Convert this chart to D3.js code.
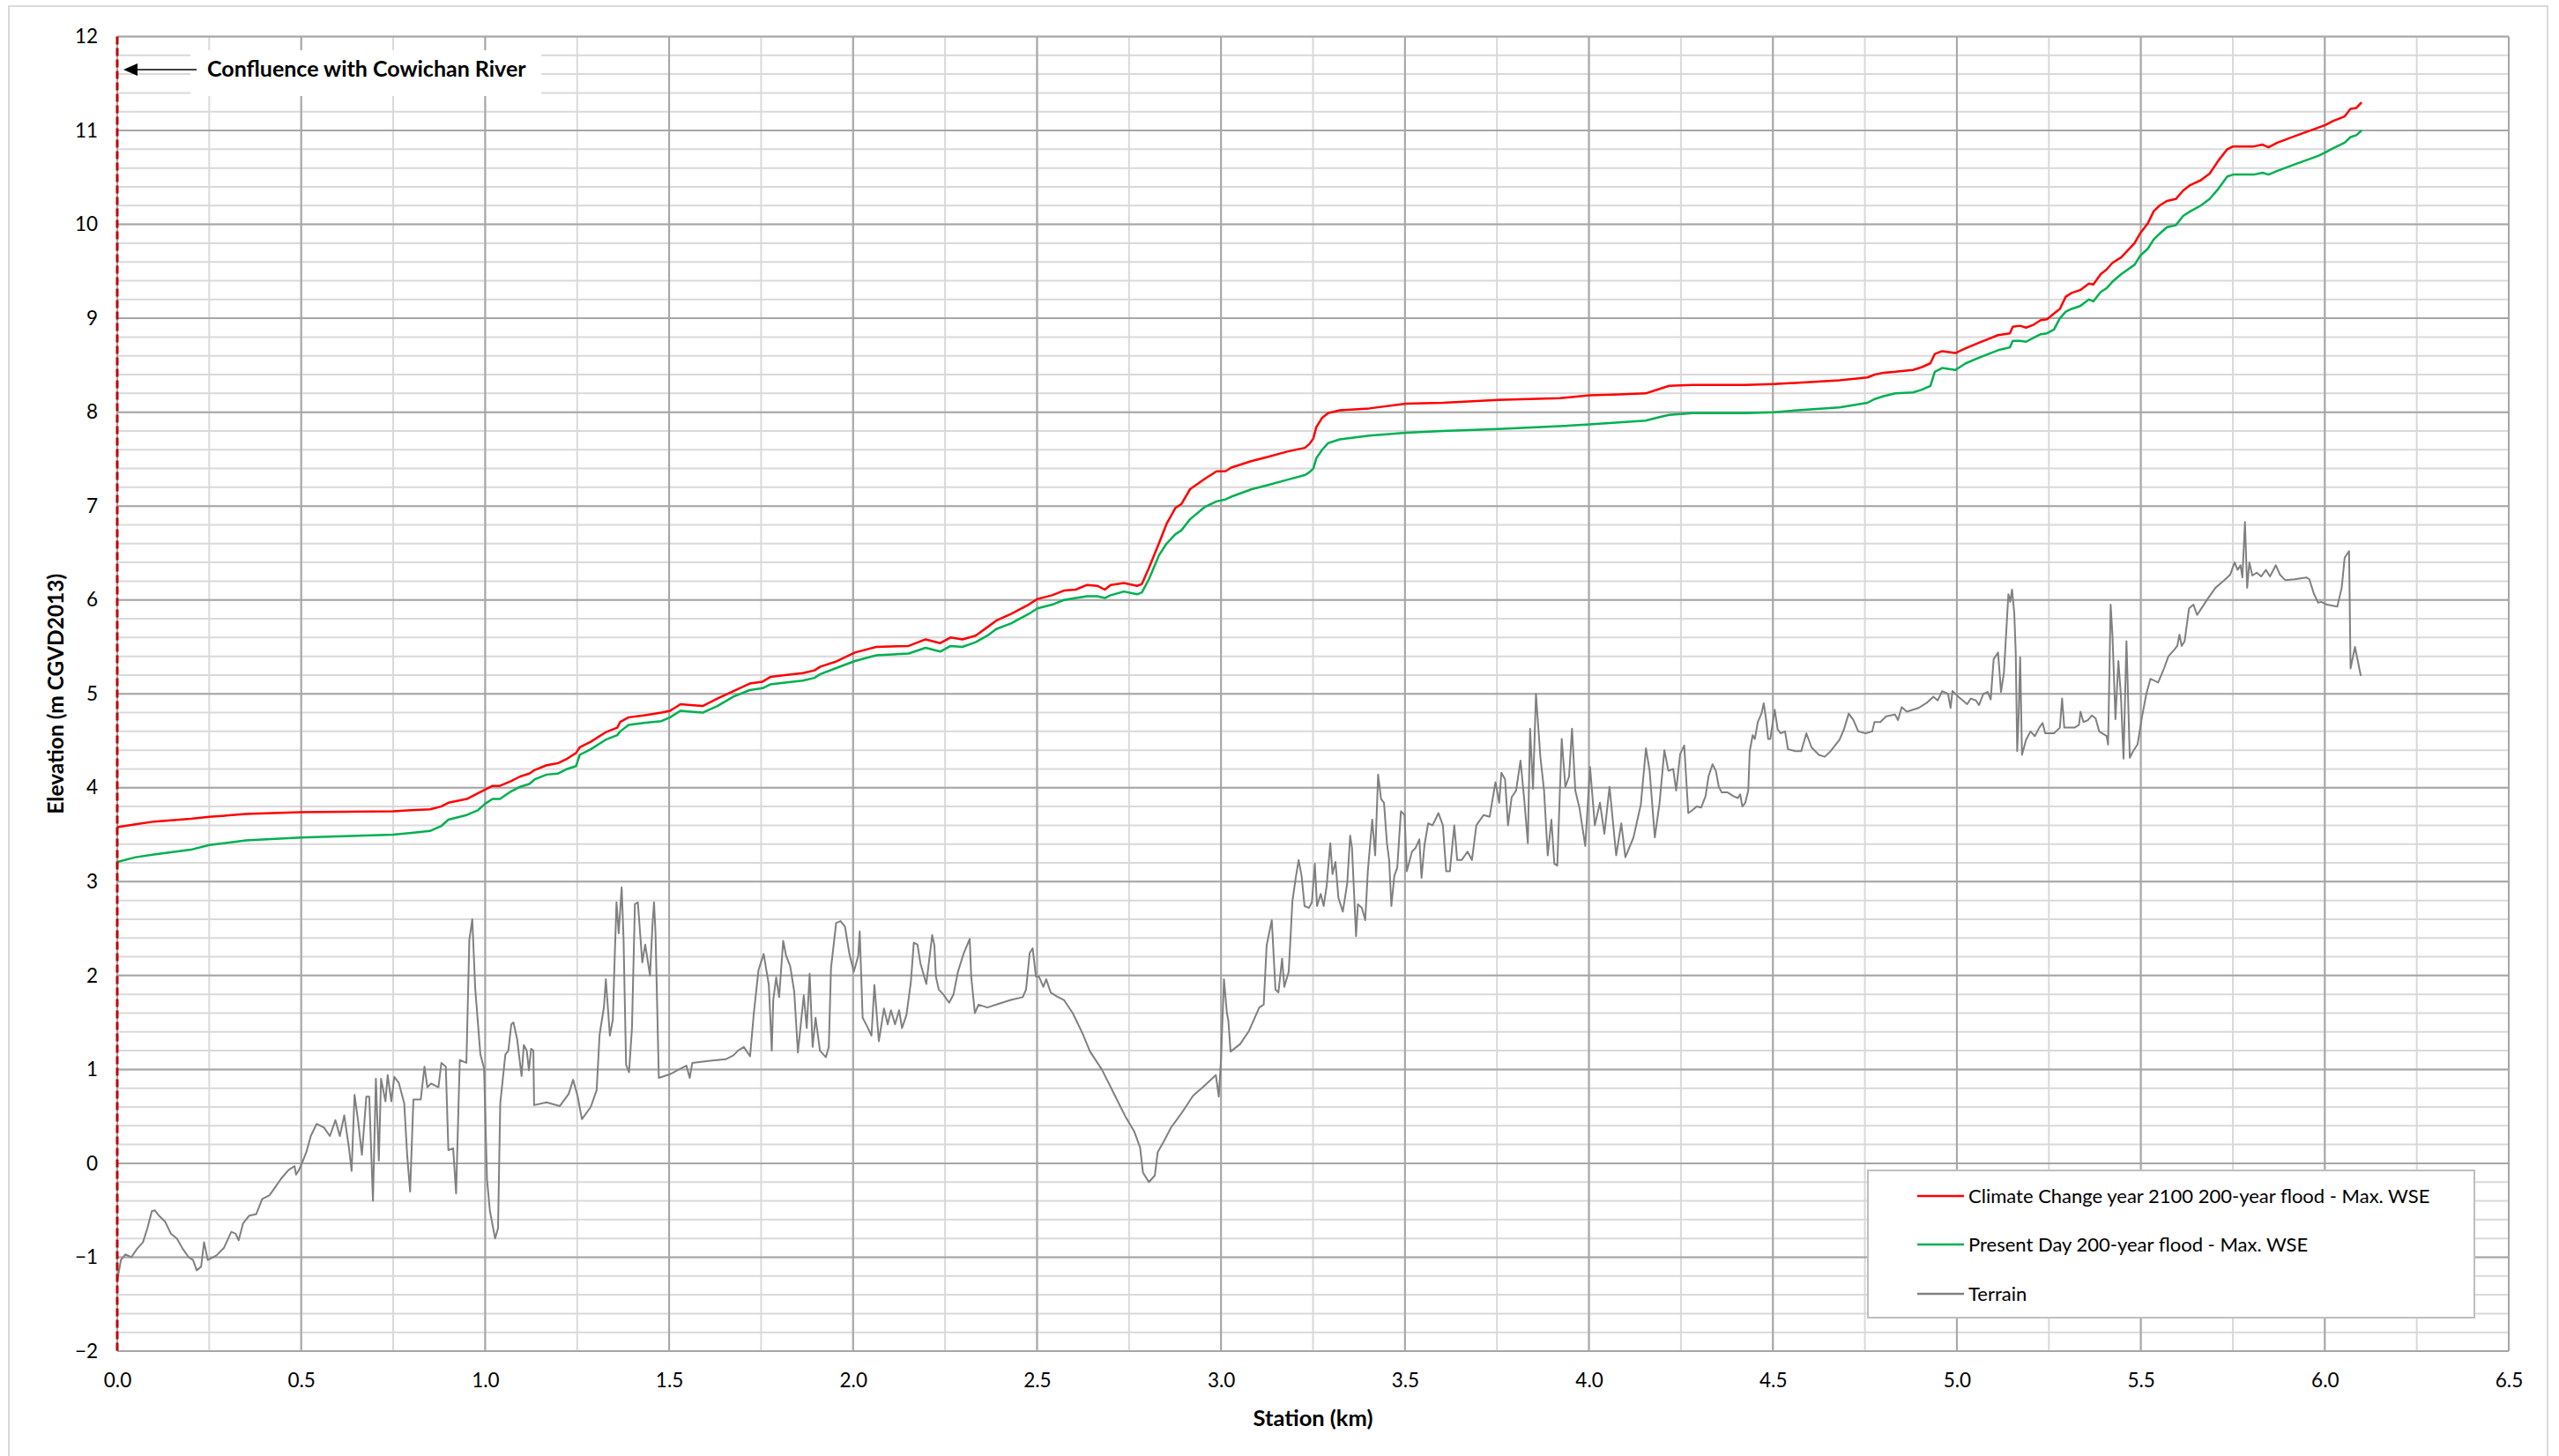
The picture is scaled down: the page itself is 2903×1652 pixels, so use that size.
<!DOCTYPE html>
<html>
<head>
<meta charset="utf-8">
<script src="https://cdn.jsdelivr.net/npm/d3@7"></script>
<style>
  html, body { margin: 0; padding: 0; background: #fff; }
  svg { display: block; font-family: Lato, "Open Sans", sans-serif; }
</style>
</head>
<body>
<svg id="chart" width="2903" height="1652"></svg>
<script>
// Water surface profiles (station in km, elevation in m CGVD2013)
const wseStation = [0.00,0.05,0.10,0.20,0.25,0.35,0.50,0.75,0.80,0.85,0.88,0.90,0.95,0.98,1.00,1.02,1.04,1.07,1.095,1.12,1.135,1.167,1.197,1.223,1.247,1.257,1.287,1.327,1.359,1.367,1.39,1.431,1.479,1.503,1.531,1.559,1.591,1.631,1.675,1.719,1.754,1.775,1.815,1.863,1.895,1.911,1.951,2.005,2.063,2.151,2.197,2.237,2.265,2.297,2.333,2.365,2.389,2.429,2.477,2.501,2.541,2.573,2.605,2.636,2.664,2.684,2.700,2.736,2.772,2.785,2.804,2.832,2.852,2.876,2.892,2.916,2.956,2.988,3.012,3.028,3.084,3.124,3.180,3.228,3.240,3.251,3.259,3.275,3.291,3.323,3.403,3.503,3.603,3.753,3.922,4.002,4.082,4.154,4.194,4.218,4.281,4.425,4.503,4.601,4.681,4.757,4.777,4.801,4.833,4.881,4.905,4.928,4.940,4.960,4.996,5.024,5.060,5.112,5.144,5.152,5.172,5.188,5.208,5.228,5.245,5.264,5.280,5.296,5.312,5.335,5.359,5.371,5.391,5.407,5.423,5.447,5.483,5.499,5.519,5.535,5.551,5.571,5.595,5.615,5.635,5.663,5.687,5.711,5.735,5.751,5.807,5.831,5.847,5.871,5.919,5.982,6.003,6.022,6.054,6.070,6.086,6.100];

const wseClimate2100 = [3.58,3.61,3.64,3.67,3.69,3.72,3.74,3.75,3.76,3.77,3.80,3.84,3.88,3.94,3.98,4.02,4.02,4.07,4.12,4.15,4.19,4.24,4.26,4.31,4.37,4.43,4.49,4.59,4.64,4.70,4.75,4.77,4.80,4.82,4.89,4.88,4.87,4.95,5.03,5.11,5.13,5.18,5.20,5.22,5.25,5.29,5.34,5.44,5.50,5.51,5.58,5.54,5.60,5.58,5.62,5.71,5.78,5.85,5.95,6.01,6.05,6.10,6.11,6.16,6.15,6.11,6.16,6.18,6.15,6.17,6.34,6.61,6.81,6.98,7.02,7.18,7.29,7.37,7.37,7.41,7.48,7.52,7.58,7.62,7.66,7.72,7.84,7.94,7.99,8.02,8.04,8.09,8.10,8.13,8.15,8.18,8.19,8.20,8.25,8.28,8.29,8.29,8.30,8.32,8.34,8.37,8.40,8.42,8.43,8.45,8.48,8.52,8.62,8.65,8.63,8.68,8.74,8.82,8.84,8.91,8.92,8.90,8.93,8.98,8.99,9.05,9.10,9.23,9.27,9.30,9.37,9.36,9.47,9.52,9.59,9.65,9.80,9.91,10.01,10.14,10.20,10.25,10.27,10.36,10.42,10.47,10.54,10.68,10.80,10.83,10.83,10.85,10.82,10.87,10.94,11.03,11.06,11.10,11.15,11.23,11.24,11.30];

const wsePresent = [3.21,3.26,3.29,3.34,3.39,3.44,3.47,3.50,3.52,3.54,3.59,3.66,3.71,3.76,3.83,3.88,3.88,3.96,4.01,4.04,4.09,4.14,4.15,4.20,4.23,4.35,4.41,4.51,4.56,4.60,4.67,4.69,4.71,4.75,4.82,4.81,4.80,4.87,4.97,5.04,5.06,5.10,5.12,5.14,5.17,5.21,5.27,5.35,5.41,5.43,5.49,5.45,5.51,5.50,5.55,5.62,5.69,5.75,5.85,5.91,5.95,6.00,6.02,6.04,6.04,6.02,6.05,6.09,6.06,6.08,6.22,6.48,6.60,6.70,6.74,6.86,6.99,7.05,7.07,7.10,7.18,7.22,7.28,7.33,7.36,7.40,7.51,7.60,7.67,7.71,7.75,7.78,7.80,7.82,7.85,7.87,7.89,7.91,7.95,7.97,7.99,7.99,8.00,8.03,8.05,8.10,8.14,8.17,8.20,8.21,8.24,8.28,8.43,8.47,8.45,8.52,8.58,8.66,8.69,8.76,8.76,8.75,8.79,8.83,8.84,8.88,9.00,9.07,9.10,9.13,9.20,9.18,9.28,9.32,9.39,9.47,9.57,9.67,9.74,9.84,9.90,9.97,9.99,10.09,10.14,10.20,10.27,10.38,10.51,10.53,10.53,10.55,10.53,10.57,10.64,10.73,10.77,10.81,10.87,10.93,10.95,11.00];

// Ground profile along the channel
const terrainStation = [0.000,0.010,0.022,0.038,0.054,0.070,0.082,0.094,0.102,0.114,0.130,0.146,0.162,0.178,0.194,0.206,0.216,0.228,0.236,0.246,0.270,0.290,0.310,0.322,0.330,0.342,0.358,0.378,0.394,0.414,0.430,0.446,0.466,0.482,0.486,0.494,0.503,0.514,0.526,0.542,0.562,0.578,0.593,0.605,0.617,0.630,0.637,0.645,0.655,0.665,0.677,0.685,0.695,0.703,0.711,0.717,0.729,0.735,0.745,0.753,0.765,0.780,0.788,0.796,0.805,0.825,0.835,0.843,0.853,0.873,0.881,0.893,0.900,0.913,0.921,0.931,0.949,0.957,0.965,0.973,0.981,0.987,0.997,1.005,1.013,1.027,1.035,1.041,1.055,1.063,1.071,1.077,1.087,1.099,1.105,1.113,1.119,1.125,1.131,1.133,1.167,1.203,1.227,1.239,1.251,1.263,1.287,1.303,1.311,1.323,1.328,1.339,1.347,1.351,1.357,1.363,1.371,1.376,1.383,1.391,1.399,1.407,1.415,1.427,1.435,1.448,1.455,1.459,1.463,1.472,1.503,1.527,1.547,1.556,1.563,1.607,1.655,1.675,1.687,1.703,1.720,1.730,1.743,1.757,1.771,1.779,1.783,1.791,1.799,1.810,1.818,1.829,1.840,1.850,1.866,1.874,1.882,1.890,1.898,1.910,1.926,1.934,1.940,1.954,1.966,1.978,1.990,2.002,2.014,2.018,2.026,2.038,2.050,2.058,2.070,2.084,2.094,2.103,2.114,2.125,2.133,2.145,2.157,2.165,2.175,2.183,2.199,2.215,2.221,2.225,2.233,2.245,2.261,2.273,2.285,2.301,2.317,2.321,2.331,2.341,2.365,2.397,2.429,2.461,2.470,2.480,2.488,2.497,2.505,2.517,2.525,2.537,2.553,2.573,2.597,2.624,2.644,2.676,2.708,2.740,2.764,2.780,2.788,2.804,2.820,2.828,2.844,2.864,2.892,2.924,2.956,2.986,2.994,3.000,3.008,3.016,3.020,3.026,3.052,3.076,3.104,3.116,3.124,3.138,3.148,3.156,3.166,3.172,3.184,3.194,3.203,3.211,3.219,3.227,3.239,3.247,3.255,3.261,3.271,3.279,3.287,3.297,3.303,3.311,3.319,3.331,3.343,3.351,3.356,3.367,3.372,3.383,3.392,3.399,3.411,3.419,3.427,3.435,3.443,3.451,3.457,3.463,3.471,3.479,3.489,3.499,3.505,3.519,3.529,3.539,3.545,3.553,3.563,3.575,3.591,3.603,3.612,3.622,3.634,3.642,3.654,3.670,3.682,3.694,3.714,3.730,3.746,3.756,3.762,3.772,3.780,3.790,3.802,3.814,3.824,3.834,3.840,3.848,3.856,3.868,3.878,3.888,3.898,3.906,3.914,3.926,3.936,3.946,3.954,3.963,3.974,3.990,4.003,4.016,4.030,4.042,4.056,4.074,4.088,4.099,4.121,4.141,4.155,4.165,4.179,4.192,4.205,4.216,4.229,4.237,4.248,4.259,4.270,4.281,4.293,4.305,4.317,4.325,4.336,4.345,4.353,4.361,4.377,4.393,4.405,4.411,4.417,4.425,4.433,4.437,4.445,4.451,4.459,4.469,4.475,4.481,4.487,4.493,4.499,4.505,4.513,4.521,4.533,4.541,4.561,4.577,4.591,4.605,4.625,4.641,4.657,4.681,4.693,4.706,4.719,4.732,4.752,4.770,4.776,4.792,4.808,4.832,4.840,4.850,4.864,4.896,4.920,4.936,4.948,4.960,4.976,4.983,4.988,5.004,5.028,5.038,5.052,5.060,5.072,5.084,5.092,5.100,5.112,5.120,5.128,5.140,5.145,5.150,5.156,5.160,5.164,5.168,5.172,5.177,5.188,5.200,5.212,5.224,5.233,5.240,5.264,5.280,5.286,5.292,5.320,5.332,5.336,5.344,5.356,5.367,5.377,5.387,5.399,5.407,5.411,5.418,5.423,5.431,5.439,5.446,5.453,5.461,5.470,5.479,5.491,5.503,5.515,5.526,5.547,5.563,5.575,5.591,5.599,5.605,5.611,5.619,5.631,5.643,5.653,5.663,5.683,5.703,5.727,5.743,5.755,5.763,5.771,5.776,5.783,5.789,5.795,5.803,5.815,5.827,5.840,5.851,5.867,5.878,5.893,5.918,5.950,5.958,5.970,5.982,5.990,6.006,6.034,6.046,6.054,6.066,6.070,6.082,6.098];

const terrainElev = [-1.25,-1.03,-0.97,-1.00,-0.91,-0.84,-0.69,-0.51,-0.50,-0.56,-0.62,-0.75,-0.80,-0.91,-1.00,-1.03,-1.14,-1.10,-0.84,-1.03,-0.98,-0.90,-0.73,-0.75,-0.82,-0.64,-0.56,-0.54,-0.38,-0.34,-0.25,-0.16,-0.07,-0.03,-0.12,-0.07,0.01,0.12,0.29,0.42,0.38,0.29,0.46,0.29,0.51,0.16,-0.08,0.73,0.44,0.09,0.71,0.71,-0.40,0.90,0.03,0.90,0.66,0.94,0.66,0.92,0.86,0.64,0.09,-0.30,0.68,0.68,1.03,0.81,0.85,0.81,1.07,1.03,0.14,0.16,-0.32,1.10,1.07,2.38,2.60,1.86,1.46,1.16,1.01,-0.17,-0.51,-0.80,-0.69,0.64,1.16,1.20,1.48,1.50,1.32,0.93,1.26,1.20,0.99,1.22,1.20,0.62,0.65,0.61,0.74,0.89,0.72,0.47,0.60,0.78,1.37,1.67,1.96,1.36,1.53,2.06,2.78,2.45,2.94,2.41,1.05,0.97,1.44,2.76,2.78,2.14,2.33,2.00,2.56,2.78,2.45,0.91,0.95,1.00,1.04,0.91,1.07,1.09,1.11,1.15,1.20,1.24,1.14,1.59,2.06,2.23,1.90,1.20,1.74,1.98,1.77,2.37,2.21,2.10,1.83,1.18,1.79,1.44,2.02,1.24,1.55,1.20,1.13,1.24,2.08,2.56,2.58,2.52,2.23,2.04,2.21,2.47,1.55,1.46,1.36,1.90,1.30,1.65,1.48,1.63,1.48,1.63,1.44,1.58,1.93,2.35,2.33,2.13,1.91,2.43,2.32,1.99,1.85,1.80,1.71,1.80,2.04,2.24,2.39,1.99,1.60,1.69,1.66,1.70,1.74,1.77,1.85,2.24,2.29,1.99,1.99,1.88,1.96,1.82,1.78,1.74,1.60,1.38,1.19,1.00,0.75,0.50,0.34,0.17,-0.10,-0.20,-0.13,0.12,0.23,0.38,0.53,0.72,0.83,0.94,0.71,1.11,1.96,1.60,1.52,1.19,1.27,1.41,1.66,1.69,2.32,2.59,1.85,1.82,2.18,1.88,2.04,2.79,3.04,3.23,3.06,2.74,2.72,2.78,3.19,2.74,2.87,2.74,2.95,3.41,3.08,3.21,2.83,2.68,2.98,3.49,3.36,2.42,2.76,2.72,2.59,3.11,3.66,3.28,4.14,3.88,3.84,3.41,3.23,2.74,3.06,3.15,3.75,3.71,3.11,3.32,3.36,3.45,3.04,3.39,3.62,3.60,3.73,3.60,3.11,3.11,3.60,3.23,3.23,3.32,3.23,3.60,3.71,3.69,4.06,3.84,4.16,4.09,3.60,3.90,3.97,4.29,3.88,3.41,4.63,3.99,5.00,4.33,3.97,3.28,3.66,3.19,3.17,4.52,4.01,4.12,4.63,3.97,3.79,3.38,4.22,3.60,3.84,3.51,4.01,3.28,3.62,3.26,3.47,3.82,4.42,4.18,3.47,3.84,4.40,4.18,4.20,3.97,4.36,4.45,3.73,3.76,3.80,3.79,3.91,4.12,4.25,4.18,4.01,3.95,3.95,3.91,3.89,3.93,3.80,3.84,3.97,4.39,4.56,4.52,4.70,4.79,4.90,4.74,4.52,4.52,4.68,4.83,4.62,4.58,4.60,4.41,4.39,4.39,4.58,4.43,4.35,4.33,4.39,4.51,4.62,4.79,4.72,4.60,4.58,4.60,4.70,4.70,4.76,4.78,4.72,4.86,4.81,4.85,4.91,4.97,4.93,5.03,5.00,4.85,5.03,4.97,4.89,4.95,4.93,4.88,5.00,5.02,4.94,5.37,5.44,5.02,5.23,6.06,5.98,6.11,5.86,5.44,4.39,4.77,5.39,4.35,4.51,4.60,4.55,4.64,4.69,4.58,4.58,4.64,4.95,4.64,4.64,4.67,4.81,4.70,4.72,4.77,4.74,4.60,4.57,4.55,4.46,5.95,5.62,4.73,5.35,4.97,4.31,5.56,4.32,4.39,4.46,4.75,5.00,5.16,5.12,5.27,5.40,5.47,5.51,5.63,5.51,5.56,5.91,5.95,5.84,5.90,6.02,6.13,6.21,6.27,6.40,6.32,6.37,6.24,6.83,6.13,6.40,6.26,6.29,6.25,6.32,6.25,6.37,6.27,6.21,6.22,6.24,6.22,6.07,5.97,5.98,5.95,5.93,6.13,6.45,6.52,5.27,5.50,5.19];

// Axis ticks
const xTicks = [0,0.5,1,1.5,2,2.5,3,3.5,4,4.5,5,5.5,6,6.5];
const yTicks = [-2,-1,0,1,2,3,4,5,6,7,8,9,10,11,12];

// Legend entries
const seriesNames = ["Climate Change year 2100 200-year flood - Max. WSE", "Present Day 200-year flood - Max. WSE", "Terrain"];
const seriesColors = ["#ff0000", "#00b050", "#808080"];

const svg = d3.select("#chart");
const plot = { left: 133, right: 2846, top: 41.5, bottom: 1533 };

const x = d3.scaleLinear().domain([0, 6.5]).range([plot.left, plot.right]);
const y = d3.scaleLinear().domain([-2, 12]).range([plot.bottom, plot.top]);

// Chart border
svg.append("rect")
  .attr("x", 10).attr("y", 7).attr("width", 2880).attr("height", 1650)
  .attr("fill", "#fff").attr("stroke", "#d9d9d9").attr("stroke-width", 2);

// Gridlines
const grid = svg.append("g");
const minorX = d3.range(0, 6.5001, 0.25);
const minorY = d3.range(-2, 12.0001, 0.2);
grid.selectAll(".mx").data(minorX).join("line")
  .attr("x1", d => x(d)).attr("x2", d => x(d))
  .attr("y1", plot.top).attr("y2", plot.bottom)
  .attr("stroke", "#d9d9d9").attr("stroke-width", 2);
grid.selectAll(".my").data(minorY).join("line")
  .attr("x1", plot.left).attr("x2", plot.right)
  .attr("y1", d => y(d)).attr("y2", d => y(d))
  .attr("stroke", "#d9d9d9").attr("stroke-width", 2);
grid.selectAll(".Mx").data(xTicks).join("line")
  .attr("x1", d => x(d)).attr("x2", d => x(d))
  .attr("y1", plot.top).attr("y2", plot.bottom)
  .attr("stroke", "#a6a6a6").attr("stroke-width", 2);
grid.selectAll(".My").data(yTicks).join("line")
  .attr("x1", plot.left).attr("x2", plot.right)
  .attr("y1", d => y(d)).attr("y2", d => y(d))
  .attr("stroke", "#a6a6a6").attr("stroke-width", 2);

// Axes (labels only)
const xAxis = svg.append("g")
  .attr("transform", `translate(0,${plot.bottom})`)
  .call(d3.axisBottom(x).tickValues(xTicks).tickFormat(d3.format(".1f")).tickSize(0).tickPadding(25));
const yAxis = svg.append("g")
  .attr("transform", `translate(${plot.left},0)`)
  .call(d3.axisLeft(y).tickValues(yTicks).tickFormat(d3.format("d")).tickSize(0).tickPadding(22));
[xAxis, yAxis].forEach(g => {
  g.select(".domain").remove();
  g.selectAll("text").attr("font-family", "Lato, sans-serif").attr("font-size", 22.5).attr("fill", "#000");
});

// Axis titles
svg.append("text")
  .attr("x", (plot.left + plot.right) / 2).attr("y", 1618)
  .attr("text-anchor", "middle").attr("font-weight", "bold").attr("font-size", 25.5)
  .text("Station (km)");
svg.append("text")
  .attr("transform", `translate(72,${(plot.top + plot.bottom) / 2}) rotate(-90)`)
  .attr("text-anchor", "middle").attr("font-weight", "bold").attr("font-size", 24.5)
  .text("Elevation (m CGVD2013)");

// Series
const lineGen = (xs, ys) => d3.line()
  .x((d, i) => x(xs[i]))
  .y(d => y(d))(ys);

svg.append("path").attr("d", lineGen(terrainStation, terrainElev))
  .attr("fill", "none").attr("stroke", seriesColors[2]).attr("stroke-width", 2).attr("stroke-linejoin", "round");
svg.append("path").attr("d", lineGen(wseStation, wsePresent))
  .attr("fill", "none").attr("stroke", seriesColors[1]).attr("stroke-width", 2.5).attr("stroke-linejoin", "round");
svg.append("path").attr("d", lineGen(wseStation, wseClimate2100))
  .attr("fill", "none").attr("stroke", seriesColors[0]).attr("stroke-width", 2.5).attr("stroke-linejoin", "round");

// Confluence marker at station 0
svg.append("line")
  .attr("x1", x(0)).attr("x2", x(0)).attr("y1", y(12)).attr("y2", y(-2))
  .attr("stroke", "#c00000").attr("stroke-width", 3).attr("stroke-dasharray", "9,4");

// Annotation
svg.append("rect")
  .attr("x", 216).attr("y", 57).attr("width", 398).attr("height", 52)
  .attr("fill", "#fff");
svg.append("text")
  .attr("x", 235).attr("y", 87)
  .attr("font-weight", "bold").attr("font-size", 25)
  .text("Confluence with Cowichan River");
svg.append("line")
  .attr("x1", 223).attr("x2", 152).attr("y1", 79).attr("y2", 79)
  .attr("stroke", "#000").attr("stroke-width", 1.5);
svg.append("path")
  .attr("d", `M140,79 L156,72 L156,86 Z`)
  .attr("fill", "#000");

// Legend
const legend = svg.append("g");
legend.append("rect")
  .attr("x", 2119).attr("y", 1328).attr("width", 688).attr("height", 167)
  .attr("fill", "#fff").attr("stroke", "#bfbfbf").attr("stroke-width", 2);
const rowY = [1357, 1412, 1468];
seriesNames.forEach((name, i) => {
  legend.append("line")
    .attr("x1", 2175).attr("x2", 2228).attr("y1", rowY[i]).attr("y2", rowY[i])
    .attr("stroke", seriesColors[i]).attr("stroke-width", 2.5);
  legend.append("text")
    .attr("x", 2233).attr("y", rowY[i] + 8)
    .attr("font-size", 22).attr("fill", "#000")
    .text(name);
});
</script>
</body>
</html>
